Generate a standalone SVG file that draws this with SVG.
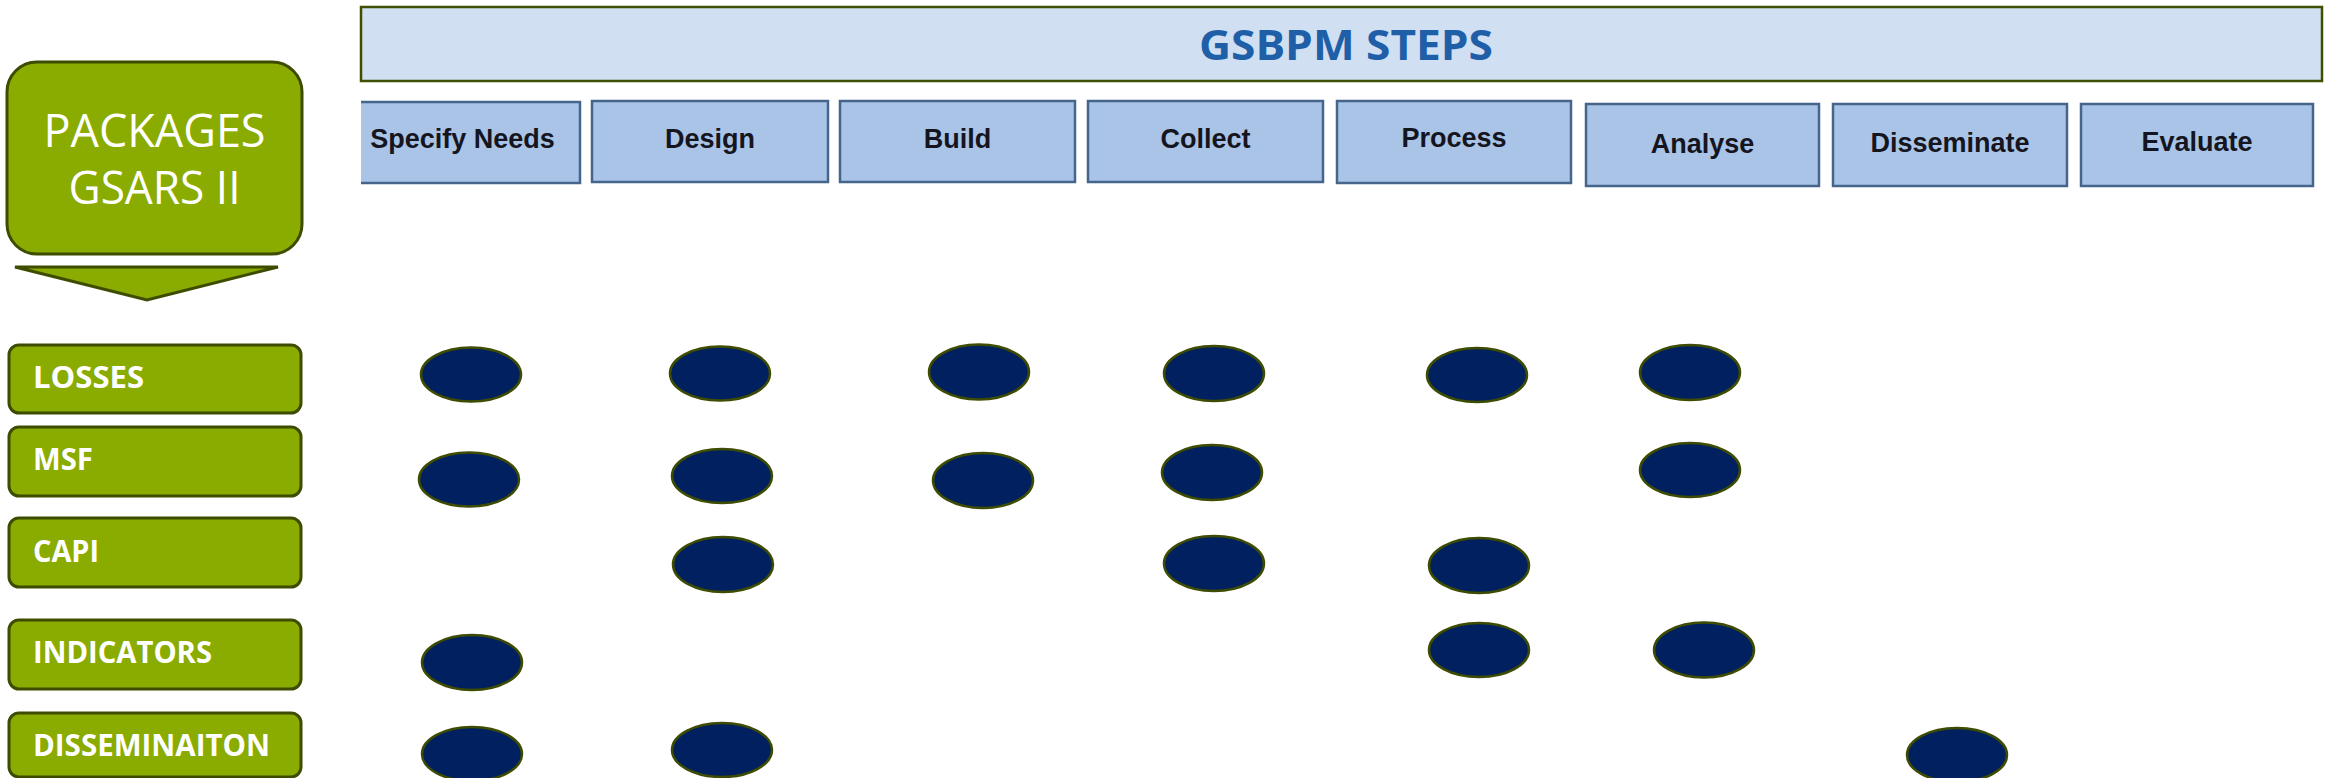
<svg xmlns="http://www.w3.org/2000/svg" width="2331" height="778" viewBox="0 0 2331 778">
<defs>
<style>
.grn{fill:#8AAB00;stroke:#3D4C00;stroke-width:3}
.pkg{font-family:"Open Sans","Liberation Sans",sans-serif;font-weight:bold;font-size:29.5px;fill:#ffffff}
.big{font-family:"Open Sans","Liberation Sans",sans-serif;font-size:45px;fill:#ffffff;text-anchor:middle}
.step{fill:#A9C4E6;stroke:#46658C;stroke-width:2.5}
.stxt{font-family:"Liberation Sans",Arial,sans-serif;font-weight:bold;font-size:27px;fill:#15151f;text-anchor:middle}
.dot{fill:#002060;stroke:#3D4C00;stroke-width:2.5}
</style>
<clipPath id="cut"><rect x="361" y="90" width="300" height="110"/></clipPath>
</defs>
<rect width="2331" height="778" fill="#ffffff"/>

<g id="packages-header">
<rect class="grn" x="7" y="62" width="295" height="192" rx="30" ry="30"/>
<text class="big" x="154.5" y="147" textLength="222" lengthAdjust="spacingAndGlyphs">PACKAGES</text>
<text class="big" x="154.5" y="204" textLength="172" lengthAdjust="spacingAndGlyphs">GSARS II</text>
</g>
<g id="packages-arrow">
<polygon class="grn" points="15,267 278,267 147,300"/>
</g>

<g id="gsbpm-banner">
<rect x="361" y="7" width="1961" height="74" fill="#D0E0F2" stroke="#3F4F00" stroke-width="2.5"/>
<text x="1346" y="60" text-anchor="middle" font-family="'Open Sans','Liberation Sans',sans-serif" font-weight="bold" font-size="41" fill="#1F5FA8" textLength="294" lengthAdjust="spacingAndGlyphs">GSBPM STEPS</text>
</g>

<g id="step-specify">
<rect class="step" x="345" y="102" width="235" height="81" clip-path="url(#cut)"/>
<text class="stxt" x="462.5" y="148">Specify Needs</text>
</g>
<g id="step-design">
<rect class="step" x="592" y="101" width="236" height="81"/>
<text class="stxt" x="710" y="148">Design</text>
</g>
<g id="step-build">
<rect class="step" x="840" y="101" width="235" height="81"/>
<text class="stxt" x="957.5" y="148">Build</text>
</g>
<g id="step-collect">
<rect class="step" x="1088" y="101" width="235" height="81"/>
<text class="stxt" x="1205.5" y="148">Collect</text>
</g>
<g id="step-process">
<rect class="step" x="1337" y="101" width="234" height="82"/>
<text class="stxt" x="1454" y="147">Process</text>
</g>
<g id="step-analyse">
<rect class="step" x="1586" y="104" width="233" height="82"/>
<text class="stxt" x="1702.5" y="153">Analyse</text>
</g>
<g id="step-disseminate">
<rect class="step" x="1833" y="104" width="234" height="82"/>
<text class="stxt" x="1950" y="152">Disseminate</text>
</g>
<g id="step-evaluate">
<rect class="step" x="2081" y="104" width="232" height="82"/>
<text class="stxt" x="2197" y="151">Evaluate</text>
</g>

<g id="pkg-losses">
<rect class="grn" x="9" y="345" width="292" height="68" rx="10" ry="10"/>
<text class="pkg" x="33" y="388" textLength="111" lengthAdjust="spacingAndGlyphs">LOSSES</text>
</g>
<g id="pkg-msf">
<rect class="grn" x="9" y="427" width="292" height="69" rx="10" ry="10"/>
<text class="pkg" x="33" y="470" textLength="60" lengthAdjust="spacingAndGlyphs">MSF</text>
</g>
<g id="pkg-capi">
<rect class="grn" x="9" y="518" width="292" height="69" rx="10" ry="10"/>
<text class="pkg" x="33" y="562" textLength="66" lengthAdjust="spacingAndGlyphs">CAPI</text>
</g>
<g id="pkg-indicators">
<rect class="grn" x="9" y="620" width="292" height="69" rx="10" ry="10"/>
<text class="pkg" x="33" y="663" textLength="179" lengthAdjust="spacingAndGlyphs">INDICATORS</text>
</g>
<g id="pkg-dissemination">
<rect class="grn" x="9" y="713" width="292" height="64" rx="10" ry="10"/>
<text class="pkg" x="33" y="756" textLength="237" lengthAdjust="spacingAndGlyphs">DISSEMINAITON</text>
</g>

<g id="marks">
<g id="row-losses">
<ellipse class="dot" cx="471" cy="374.5" rx="50" ry="27"/>
<ellipse class="dot" cx="720" cy="373.5" rx="50" ry="27"/>
<ellipse class="dot" cx="979" cy="372" rx="50" ry="27.5"/>
<ellipse class="dot" cx="1214" cy="373.5" rx="50" ry="27.5"/>
<ellipse class="dot" cx="1477" cy="375" rx="50" ry="27"/>
<ellipse class="dot" cx="1690" cy="372.5" rx="50" ry="27.5"/>
</g>
<g id="row-msf">
<ellipse class="dot" cx="469" cy="479.5" rx="50" ry="27"/>
<ellipse class="dot" cx="722" cy="476" rx="50" ry="27"/>
<ellipse class="dot" cx="983" cy="480.5" rx="50" ry="27.5"/>
<ellipse class="dot" cx="1212" cy="472.5" rx="50" ry="27.5"/>
<ellipse class="dot" cx="1690" cy="470" rx="50" ry="27"/>
</g>
<g id="row-capi">
<ellipse class="dot" cx="723" cy="564.5" rx="50" ry="27.5"/>
<ellipse class="dot" cx="1214" cy="563.5" rx="50" ry="27.5"/>
<ellipse class="dot" cx="1479" cy="565.5" rx="50" ry="27.5"/>
</g>
<g id="row-indicators">
<ellipse class="dot" cx="472" cy="662.5" rx="50" ry="27.5"/>
<ellipse class="dot" cx="1479" cy="650" rx="50" ry="27"/>
<ellipse class="dot" cx="1704" cy="650" rx="50" ry="27.5"/>
</g>
<g id="row-dissemination">
<ellipse class="dot" cx="472" cy="754" rx="50" ry="27"/>
<ellipse class="dot" cx="722" cy="750" rx="50" ry="27"/>
<ellipse class="dot" cx="1957" cy="755" rx="50" ry="27"/>
</g>
</g>
</svg>
